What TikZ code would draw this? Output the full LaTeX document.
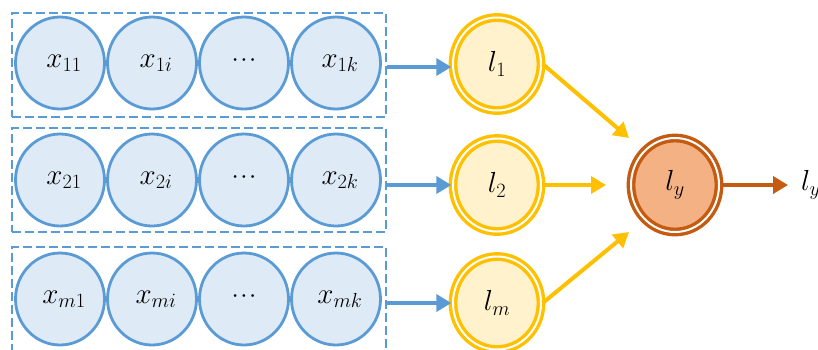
\RequirePackage{fix-cm}
\documentclass[tikz,border=0pt]{standalone}
\usetikzlibrary{arrows.meta,shapes.geometric}
\definecolor{bstroke}{HTML}{5B9BD5}
\definecolor{bfill}{HTML}{DEEBF7}
\definecolor{ystroke}{HTML}{FFC000}
\definecolor{yfill}{HTML}{FFF2CC}
\definecolor{rstroke}{HTML}{C55A11}
\definecolor{rfill}{HTML}{F4B183}
\newcommand{\mydots}{\raisebox{5pt}{\fontsize{26}{30}\selectfont$\mathord{\cdot}\mkern1mu\mathord{\cdot}\mkern1mu\mathord{\cdot}$}}
\newcommand{\xl}[1]{\hspace{8pt}$#1$}
\tikzset{
  lab/.style={font=\fontsize{29}{33}\selectfont},
  xnode/.style={ellipse, draw=bstroke, fill=bfill, line width=2.8pt, minimum width=89pt, minimum height=92pt, inner sep=0pt, lab},
  grp/.style={draw=bstroke, dash pattern=on 9pt off 4pt, line width=2.6pt, minimum width=374pt, minimum height=104pt, inner sep=0pt},
  lnode/.style={ellipse, draw=ystroke, double=white, double distance=2pt, line width=3.4pt, fill=yfill, minimum width=88pt, minimum height=93pt, inner sep=0pt, lab},
  ynode/.style={ellipse, draw=rstroke, double=white, double distance=2pt, line width=3.4pt, fill=rfill, minimum width=88pt, minimum height=94pt, inner sep=0pt, lab},
  tip/.style={-{Triangle[length=15pt,width=17pt]}},
  barrow/.style={draw=bstroke, line width=4pt, tip},
  yarrow/.style={draw=ystroke, line width=4pt, tip},
  rarrow/.style={draw=rstroke, line width=4pt, tip},
}
\begin{document}
\begin{tikzpicture}[x=1pt,y=-1pt]
\useasboundingbox (0,0) rectangle (818,349);
% groups
\node[grp] (g1) at (199,65) {};
\node[grp] (g2) at (199,180) {};
\node[grp] (g3) at (199,299) {};
% row 1
\node[xnode] (x11) at (60,63) {\xl{x_{11}}};
\node[xnode] (x1i) at (152,63) {\xl{x_{1i}}};
\node[xnode] (x1d) at (244,63) {\mydots};
\node[xnode] (x1k) at (336,63) {\xl{x_{1k}}};
% row 2
\node[xnode] (x21) at (60,180) {\xl{x_{21}}};
\node[xnode] (x2i) at (152,180) {\xl{x_{2i}}};
\node[xnode] (x2d) at (244,180) {\mydots};
\node[xnode] (x2k) at (336,180) {\xl{x_{2k}}};
% row 3
\node[xnode] (xm1) at (60,299) {\xl{x_{m1}}};
\node[xnode] (xmi) at (152,299) {\xl{x_{mi}}};
\node[xnode] (xmd) at (244,299) {\mydots};
\node[xnode] (xmk) at (336,299) {\xl{x_{mk}}};
% l nodes
\node[lnode] (l1) at (497,64) {$l_1$};
\node[lnode] (l2) at (497,185) {$l_2$};
\node[lnode] (lm) at (497,303) {$l_m$};
\node[ynode] (ly) at (675,185) {$l_y$};
\node[anchor=west, inner sep=0pt, lab] (lyout) at (801,185) {$l_y$};
% coordinates
\coordinate (e1) at (629,138);
\coordinate (e2) at (606,185);
\coordinate (e3) at (629,232);
\coordinate (eo) at (788,185);
% arrows
\draw[barrow] (g1.east |- 0,67) -- (l1.west |- 0,67);
\draw[barrow] (g2.east |- l2.west) -- (l2.west);
\draw[barrow] (g3.east |- lm.west) -- (lm.west);
\draw[yarrow] (l1.east) -- (e1);
\draw[yarrow] (l2.east) -- (e2);
\draw[yarrow] (lm.east) -- (e3);
\draw[rarrow] (ly.east) -- (eo);
\end{tikzpicture}
\end{document}
